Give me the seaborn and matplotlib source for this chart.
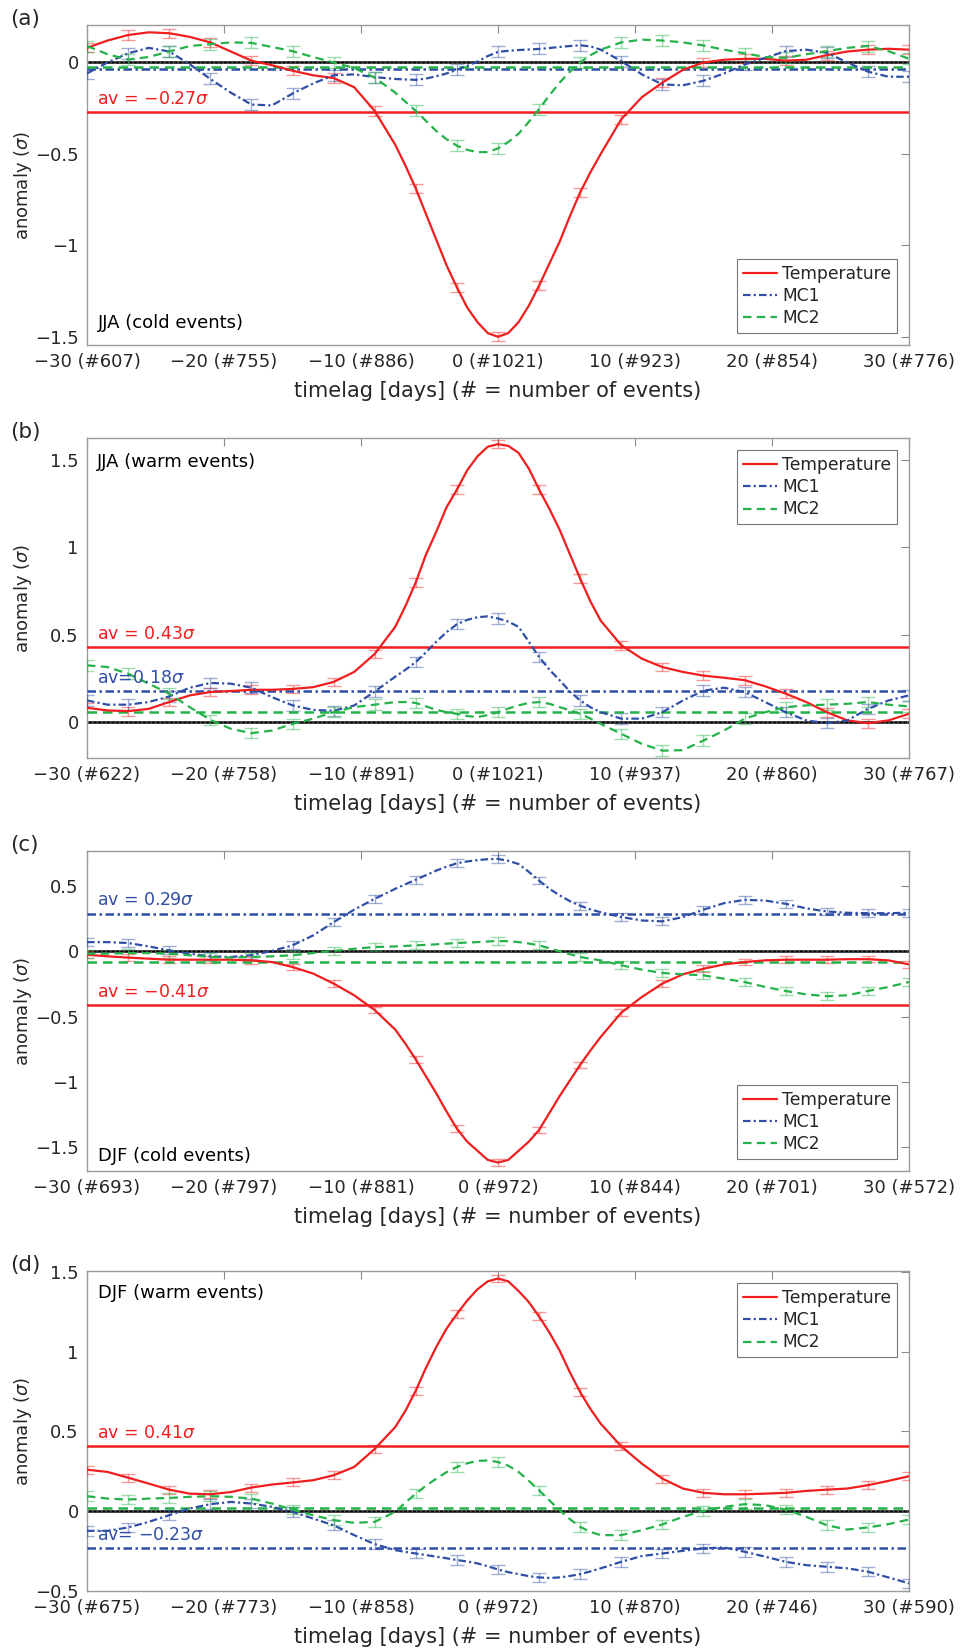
import numpy as np
import pandas as pd
import matplotlib
matplotlib.use("Agg")
import matplotlib.pyplot as plt
import seaborn as sns

sns.set_style("white")
plt.rcParams['font.family'] = ['DejaVu Sans']

# time lag axis (days): values read every 1.5 days, plus extra readings
# around the peak (every 0.75 day between -7.5 and 7.5)
days = np.arange(-30, 30.01, 1.5)
days_peak = np.arange(-6.75, 6.76, 1.5)
tick_days = [-30, -20, -10, 0, 10, 20, 30]

# ---- (a) JJA cold events
temp_a = [0.08, 0.12, 0.15, 0.165, 0.16, 0.14, 0.11, 0.06, 0.01, -0.015, -0.045,
          -0.07, -0.085, -0.135, -0.265, -0.45, -0.69, -0.97, -1.23, -1.42, -1.5,
          -1.42, -1.22, -0.98, -0.71, -0.5, -0.31, -0.19, -0.11, -0.04, 0.0,
          0.015, 0.02, 0.02, 0.01, 0.015, 0.04, 0.06, 0.07, 0.075, 0.07]
temp_a_pk = [-0.565, -0.83, -1.11, -1.34, -1.48, -1.48, -1.33, -1.10, -0.84, -0.60]
mc1_a = [-0.06, 0.0, 0.05, 0.08, 0.06, -0.01, -0.09, -0.165, -0.23, -0.235, -0.17,
         -0.115, -0.07, -0.065, -0.08, -0.09, -0.095, -0.075, -0.04, 0.005, 0.058,
         0.068, 0.074, 0.085, 0.094, 0.07, 0.007, -0.065, -0.12, -0.125, -0.1,
         -0.06, -0.011, 0.025, 0.062, 0.07, 0.053, 0.0, -0.05, -0.078, -0.078]
mc1_a_pk = [-0.093, -0.088, -0.06, -0.018, 0.035, 0.064, 0.071, 0.079, 0.09, 0.088]
mc2_a = [0.09, 0.045, 0.016, 0.03, 0.06, 0.09, 0.1, 0.11, 0.107, 0.085, 0.062,
         0.03, 0.0, -0.03, -0.083, -0.165, -0.265, -0.375, -0.455, -0.49, -0.47,
         -0.39, -0.255, -0.11, 0.0, 0.07, 0.11, 0.125, 0.12, 0.11, 0.093,
         0.07, 0.05, 0.03, 0.025, 0.045, 0.062, 0.08, 0.09, 0.062, 0.02]
mc2_a_pk = [-0.215, -0.32, -0.42, -0.478, -0.49, -0.435, -0.325, -0.18, -0.05, 0.04]
av_a = [-0.27, -0.033, -0.025]
events_a = [607, 755, 886, 1021, 923, 854, 776]

# ---- (b) JJA warm events
temp_b = [0.082, 0.067, 0.063, 0.076, 0.115, 0.153, 0.172, 0.178, 0.185, 0.185, 0.19,
          0.2, 0.23, 0.287, 0.39, 0.545, 0.8, 1.09, 1.33, 1.52, 1.59,
          1.54, 1.33, 1.1, 0.82, 0.58, 0.44, 0.363, 0.315, 0.287, 0.266,
          0.254, 0.24, 0.205, 0.163, 0.115, 0.057, 0.01, -0.006, 0.01, 0.048]
temp_b_pk = [0.665, 0.96, 1.23, 1.44, 1.575, 1.58, 1.45, 1.22, 0.96, 0.69]
mc1_b = [0.124, 0.1, 0.1, 0.115, 0.147, 0.197, 0.224, 0.22, 0.197, 0.143, 0.096,
         0.07, 0.065, 0.095, 0.175, 0.26, 0.344, 0.46, 0.56, 0.6, 0.593,
         0.545, 0.373, 0.24, 0.124, 0.057, 0.02, 0.02, 0.057, 0.124, 0.18,
         0.197, 0.172, 0.115, 0.057, 0.01, -0.006, 0.01, 0.076, 0.124, 0.153]
mc1_b_pk = [0.30, 0.40, 0.515, 0.585, 0.605, 0.575, 0.46, 0.30, 0.175, 0.085]
mc2_b = [0.325, 0.315, 0.277, 0.22, 0.163, 0.086, 0.013, -0.038, -0.063, -0.048, -0.01,
         0.02, 0.057, 0.086, 0.1, 0.115, 0.11, 0.07, 0.048, 0.029, 0.057,
         0.096, 0.115, 0.086, 0.048, -0.01, -0.067, -0.124, -0.163, -0.16, -0.105,
         -0.048, 0.02, 0.057, 0.086, 0.096, 0.1, 0.105, 0.115, 0.1, 0.09]
mc2_b_pk = [0.115, 0.09, 0.057, 0.035, 0.04, 0.078, 0.11, 0.105, 0.068, 0.02]
av_b = [0.43, 0.18, 0.057]
events_b = [622, 758, 891, 1021, 937, 860, 767]

# ---- (c) DJF cold events
temp_c = [-0.026, -0.038, -0.048, -0.056, -0.064, -0.064, -0.064, -0.064, -0.069, -0.082, -0.12,
          -0.17, -0.247, -0.337, -0.45, -0.6, -0.83, -1.09, -1.36, -1.53, -1.62,
          -1.53, -1.37, -1.11, -0.87, -0.656, -0.47, -0.35, -0.247, -0.176, -0.133,
          -0.1, -0.082, -0.069, -0.064, -0.064, -0.064, -0.06, -0.06, -0.069, -0.1]
temp_c_pk = [-0.71, -0.96, -1.23, -1.46, -1.60, -1.60, -1.46, -1.24, -0.99, -0.76]
mc1_c = [0.071, 0.071, 0.064, 0.038, 0.008, -0.018, -0.038, -0.043, -0.03, 0.003, 0.046,
         0.122, 0.224, 0.32, 0.403, 0.48, 0.55, 0.62, 0.676, 0.7, 0.709,
         0.67, 0.543, 0.43, 0.35, 0.3, 0.263, 0.237, 0.23, 0.263, 0.32,
         0.37, 0.395, 0.39, 0.365, 0.33, 0.306, 0.296, 0.293, 0.293, 0.296]
mc1_c_pk = [0.515, 0.585, 0.65, 0.69, 0.707, 0.695, 0.61, 0.48, 0.385, 0.322]
mc2_c = [-0.018, -0.018, -0.013, -0.013, -0.018, -0.03, -0.043, -0.048, -0.043, -0.038, -0.03,
         -0.013, 0.003, 0.02, 0.033, 0.038, 0.046, 0.054, 0.064, 0.071, 0.079,
         0.071, 0.046, 0.0, -0.043, -0.069, -0.107, -0.14, -0.166, -0.176, -0.184,
         -0.21, -0.235, -0.273, -0.304, -0.33, -0.344, -0.337, -0.304, -0.273, -0.235]
mc2_c_pk = [0.042, 0.05, 0.059, 0.068, 0.076, 0.078, 0.06, 0.024, -0.022, -0.057]
av_c = [-0.41, 0.29, -0.082]
events_c = [693, 797, 881, 972, 844, 701, 572]

# ---- (d) DJF warm events
temp_d = [0.26, 0.246, 0.21, 0.173, 0.135, 0.11, 0.106, 0.12, 0.148, 0.167, 0.18,
          0.194, 0.225, 0.277, 0.39, 0.527, 0.756, 1.03, 1.235, 1.39, 1.458,
          1.38, 1.22, 1.006, 0.746, 0.548, 0.406, 0.298, 0.204, 0.142, 0.115,
          0.106, 0.106, 0.11, 0.115, 0.127, 0.135, 0.142, 0.163, 0.19, 0.219]
temp_d_pk = [0.63, 0.90, 1.145, 1.32, 1.44, 1.44, 1.31, 1.12, 0.87, 0.64]
mc1_d = [-0.123, -0.123, -0.102, -0.067, -0.025, 0.017, 0.044, 0.058, 0.048, 0.027, -0.004,
         -0.046, -0.088, -0.15, -0.206, -0.244, -0.265, -0.285, -0.306, -0.327, -0.365,
         -0.394, -0.415, -0.415, -0.394, -0.358, -0.317, -0.281, -0.265, -0.248, -0.233,
         -0.227, -0.254, -0.285, -0.317, -0.338, -0.348, -0.358, -0.379, -0.415, -0.452]
mc1_d_pk = [-0.255, -0.275, -0.295, -0.315, -0.345, -0.382, -0.407, -0.418, -0.406, -0.377]
mc2_d = [0.094, 0.079, 0.073, 0.079, 0.083, 0.09, 0.094, 0.09, 0.079, 0.048, 0.01,
         -0.025, -0.056, -0.073, -0.067, -0.004, 0.11, 0.204, 0.277, 0.315, 0.308,
         0.246, 0.131, 0.006, -0.098, -0.15, -0.15, -0.119, -0.083, -0.035, 0.002,
         0.027, 0.044, 0.038, 0.01, -0.035, -0.088, -0.115, -0.102, -0.081, -0.052]
mc2_d_pk = [0.055, 0.16, 0.245, 0.30, 0.318, 0.285, 0.19, 0.068, -0.05, -0.13]
av_d = [0.41, -0.23, 0.021]
events_d = [675, 773, 858, 972, 870, 746, 590]

# error bar half-widths (Temperature, MC1, MC2)
err = [0.025, 0.03, 0.03]

series_names = ['Temperature', 'MC1', 'MC2']
colors = ['#f01e1e', '#2f4ea6', '#25b24a']
styles = ['-', (0, (3.4, 1.4, 1, 1.4)), (0, (3.8, 2.4))]

panels = [
    dict(tag='(a)', data=[temp_a, mc1_a, mc2_a], pk=[temp_a_pk, mc1_a_pk, mc2_a_pk],
         av=av_a, ev=events_a,
         ylim=(-1.545, 0.205), yticks=[-1.5, -1, -0.5, 0], title='JJA (cold events)',
         tpos=(0.013, 0.069), leg='lower right', avlab={0: 'av = \u22120.27$\\sigma$'},
         top=25),
    dict(tag='(b)', data=[temp_b, mc1_b, mc2_b], pk=[temp_b_pk, mc1_b_pk, mc2_b_pk],
         av=av_b, ev=events_b,
         ylim=(-0.205, 1.625), yticks=[0, 0.5, 1, 1.5], title='JJA (warm events)',
         tpos=(0.012, 0.925), leg='upper right',
         avlab={0: 'av = 0.43$\\sigma$', 1: 'av=0.18$\\sigma$'}, top=438),
    dict(tag='(c)', data=[temp_c, mc1_c, mc2_c], pk=[temp_c_pk, mc1_c_pk, mc2_c_pk],
         av=av_c, ev=events_c,
         ylim=(-1.685, 0.77), yticks=[-1.5, -1, -0.5, 0, 0.5], title='DJF (cold events)',
         tpos=(0.013, 0.048), leg='lower right',
         avlab={0: 'av = \u22120.41$\\sigma$', 1: 'av = 0.29$\\sigma$'}, top=851),
    dict(tag='(d)', data=[temp_d, mc1_d, mc2_d], pk=[temp_d_pk, mc1_d_pk, mc2_d_pk],
         av=av_d, ev=events_d,
         ylim=(-0.5, 1.505), yticks=[-0.5, 0, 0.5, 1, 1.5], title='DJF (warm events)',
         tpos=(0.013, 0.931), leg='upper right',
         avlab={0: 'av = 0.41$\\sigma$', 1: 'av= \u22120.23$\\sigma$'}, top=1271),
]

W, H = 960, 1648
fig = plt.figure(figsize=(W / 100, H / 100), dpi=100)

for p in panels:
    ax = fig.add_axes([87 / W, 1 - (p['top'] + 320) / H, 822 / W, 320 / H])

    ax.axhline(0, color='black', lw=1.8, zorder=2)
    ax.axhline(0, color='#555555', lw=1.8, ls=(0, (0.6, 1.2)), zorder=2)

    for i in range(3):
        vals = np.array(p['data'][i])
        df = pd.DataFrame({'day': np.concatenate([days, days_peak]),
                           'anomaly': np.concatenate([vals, p['pk'][i]])})
        df = df.sort_values('day')
        sns.lineplot(data=df, x='day', y='anomaly', ax=ax, color=colors[i],
                     linestyle=styles[i], lw=1.6, label=series_names[i],
                     errorbar=None, sort=False, zorder=4)
        ax.errorbar(days[::2], vals[::2], yerr=err[i], fmt='none',
                    ecolor=colors[i], alpha=0.45, elinewidth=1.0, capsize=4.8,
                    capthick=1.0, zorder=3)
        ax.axhline(p['av'][i], color=colors[i], linestyle=styles[i], lw=1.8, zorder=3)
        if i in p['avlab']:
            ax.annotate(p['avlab'][i], xy=(-29.3, p['av'][i]), xytext=(0, 3),
                        textcoords='offset points', color=colors[i], fontsize=12.5,
                        ha='left', va='bottom', zorder=5)

    ax.set_xlim(-30, 30)
    ax.set_ylim(*p['ylim'])
    ax.set_xticks(tick_days)
    ax.set_xticklabels([f"{d if d >= 0 else chr(8722) + str(-d)} (#{n})"
                        for d, n in zip(tick_days, p['ev'])])
    ax.set_yticks(p['yticks'])
    ax.set_yticklabels([('\u2212' + f"{-v:g}") if v < 0 else f"{v:g}" for v in p['yticks']])
    ax.tick_params(direction='in', top=True, right=True, length=6, width=0.8,
                   color='#8a8a8a', labelcolor='#262626', labelsize=13, pad=6)
    for s in ax.spines.values():
        s.set_color('#9a9a9a')
        s.set_linewidth(1.0)

    ax.set_xlabel('timelag [days] (# = number of events)', fontsize=15, color='#262626')
    ax.xaxis.set_label_coords(0.5, -0.112)
    ax.set_ylabel('anomaly ($\\sigma$)', fontsize=13, color='#262626')
    ax.yaxis.set_label_coords(-0.064, 0.5)

    ax.text(p['tpos'][0], p['tpos'][1], p['title'], transform=ax.transAxes,
            fontsize=13, ha='left', va='center', color='black', zorder=6)

    handles, labels = ax.get_legend_handles_labels()
    keep = [(h, l) for h, l in zip(handles, labels) if l in series_names]
    leg = ax.legend([h for h, l in keep], [l for h, l in keep], loc=p['leg'],
                    fontsize=12.3, frameon=True, fancybox=False, framealpha=1,
                    edgecolor='#777777', handlelength=2.0, handletextpad=0.3,
                    labelspacing=0.25, borderpad=0.35, borderaxespad=0.7)
    leg.get_frame().set_linewidth(0.8)
    leg.set_zorder(10)

    fig.text(10 / W, 1 - (p['top'] - 6) / H, p['tag'], fontsize=15.5,
             ha='left', va='center')

fig.savefig('out.png', dpi=100)
